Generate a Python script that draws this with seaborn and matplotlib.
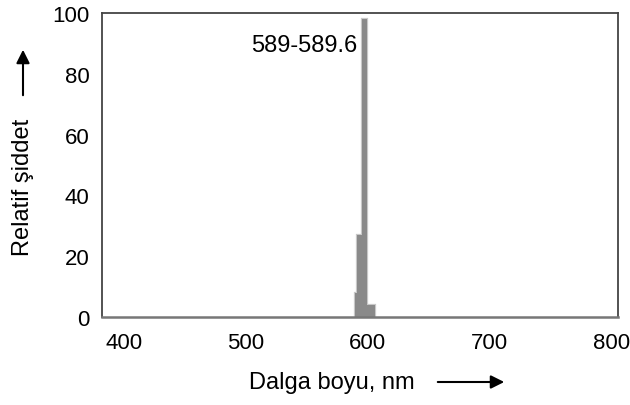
import matplotlib
matplotlib.use("Agg")
import matplotlib.pyplot as plt
import seaborn as sns
import numpy as np
import pandas as pd

# Data
bin_edges = [589.5, 591.5, 595.5, 599.5, 606.0]
intensity = [8, 27, 98, 4]
x_ticks = [400, 500, 600, 700, 800]
y_ticks = [0, 20, 40, 60, 80, 100]
peak_label = "589-589.6"
x_label = "Dalga boyu, nm"
y_label = "Relatif şiddet"

sns.set_style("white")
plt.rcParams['font.family'] = ['Liberation Sans', 'DejaVu Sans']
plt.rcParams['text.color'] = 'black'

centers = [(bin_edges[i] + bin_edges[i + 1]) / 2 for i in range(len(intensity))]
df = pd.DataFrame({"wl": centers, "I": intensity})

fig = plt.figure(figsize=(6.3, 4.06), dpi=100)
ax = fig.add_axes([0.1619, 0.2167, 0.8191, 0.7488])

# soft halo to mimic blurred bars
sns.histplot(data=df, x="wl", weights="I", bins=bin_edges, ax=ax,
             color="#b5b5b5", alpha=1, edgecolor="#c8c8c8", linewidth=1.6,
             element="bars", fill=True, stat="count")
sns.histplot(data=df, x="wl", weights="I", bins=bin_edges, ax=ax,
             color="#8a8a8a", alpha=1, edgecolor="none", linewidth=0,
             element="bars", fill=True, stat="count")

ax.set_xlim(381.9, 805.7)
ax.set_ylim(0, 100)
ax.set_xticks(x_ticks)
ax.set_yticks(y_ticks)
ax.tick_params(direction="in", length=5, width=1, color="#333333",
               labelsize=16, labelcolor="black")
ax.tick_params(axis="x", pad=11)
ax.tick_params(axis="y", pad=9)
ax.set_xlabel("")
ax.set_ylabel("")

for s in ["top", "right", "left"]:
    ax.spines[s].set_color("#444444")
    ax.spines[s].set_linewidth(1.3)
ax.spines["bottom"].set_color("#777777")
ax.spines["bottom"].set_linewidth(1.8)

ax.text(592, 89.5, peak_label, ha="right", va="center", fontsize=17, color="black")

# axis titles with arrows (figure coords)
fig.text(332 / 630, 1 - 383 / 406, x_label, ha="center", va="center", fontsize=17)
fig.add_artist(matplotlib.patches.FancyArrowPatch(
    (435 / 630, 1 - 383 / 406), (507 / 630, 1 - 383 / 406),
    transform=fig.transFigure, arrowstyle="-|>", mutation_scale=20,
    color="black", linewidth=1.5))

fig.text(23 / 630, 1 - 187 / 406, y_label, ha="center", va="center",
         rotation=90, fontsize=17)
fig.add_artist(matplotlib.patches.FancyArrowPatch(
    (23 / 630, 1 - 99 / 406), (23 / 630, 1 - 48 / 406),
    transform=fig.transFigure, arrowstyle="-|>", mutation_scale=20,
    color="black", linewidth=1.5))

fig.savefig("out.png", dpi=100, facecolor="white")
